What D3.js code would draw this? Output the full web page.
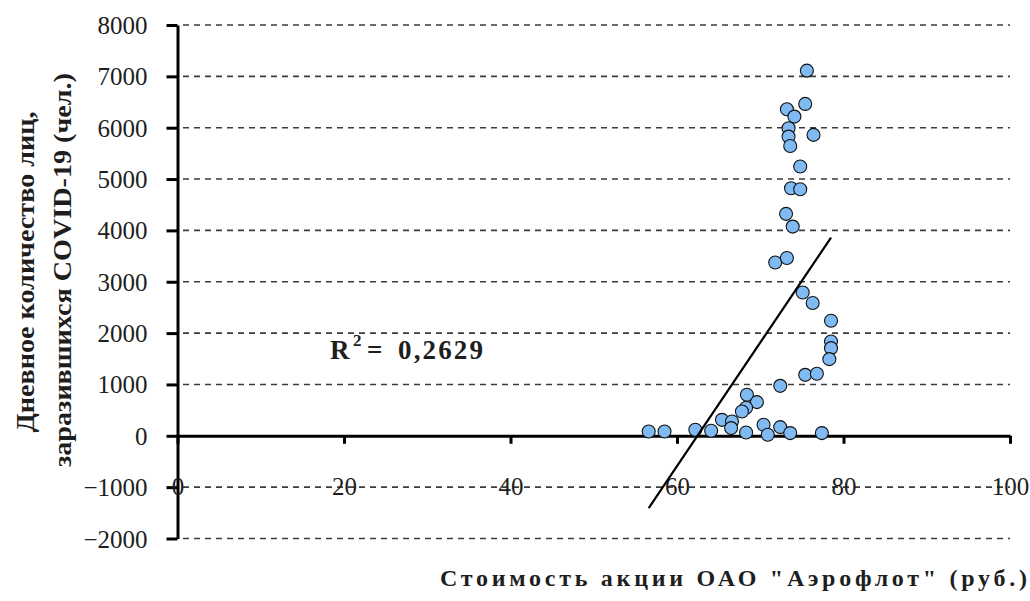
<!DOCTYPE html>
<html><head><meta charset="utf-8">
<script src="https://cdn.jsdelivr.net/npm/d3@7"></script>
<style>body{margin:0;background:#fff}</style>
</head><body>
<svg id="c" width="1030" height="601"></svg>
<script>
// ---- data ----
const priceX = [75.6,75.4,73.2,74.1,73.4,76.4,73.4,73.6,74.8,73.7,74.8,73.1,73.9,
  71.8,73.2,75.1,76.3,78.5,78.5,78.5,78.3,75.4,76.8,72.4,68.4,69.6,68.3,67.8,65.4,66.6,
  70.4,72.4,56.6,58.5,62.2,64.1,68.3,70.9,73.6,77.4,66.5];
const casesY = [7111,6463,6360,6216,5990,5860,5827,5645,5243,4822,4802,4322,4074,
  3376,3462,2792,2585,2240,1836,1707,1493,1187,1207,973,798,656,545,473,311,278,
  214,169,84,84,117,97,64,19,53,53,150];
const xTicks = [0,20,40,60,80,100];
const yTicks = [-2000,-1000,0,1000,2000,3000,4000,5000,6000,7000,8000];
const trendX = [56.6,78.5];
const trendY = [-1407,3860];
const r2Value = "0,2629";
const xTitle = 'Стоимость акции ОАО "Аэрофлот" (руб.)';
const yTitleLines = ['Дневное количество лиц,', 'заразившихся COVID-19 (чел.)'];

// ---- drawing ----
const svg = d3.select('#c');
const serif = '"Liberation Serif","Times New Roman",serif';
const ink = '#1e1e1e';
const x = d3.scaleLinear().domain([0,100]).range([177.5,1010]);
const y = d3.scaleLinear().domain([-2000,8000]).range([538.5,25]);

// gridlines
svg.append('g').selectAll('line').data(yTicks.filter(d=>d!==0)).join('line')
  .attr('x1',183).attr('x2',1010).attr('y1',d=>y(d)).attr('y2',d=>y(d))
  .attr('stroke','#3c3c3c').attr('stroke-width',1.6).attr('stroke-dasharray','6,5');

// y axis
const ya = svg.append('g').attr('transform',`translate(${x(0)},0)`)
  .call(d3.axisLeft(y).tickValues(yTicks).tickSize(11).tickSizeOuter(0).tickPadding(19).tickFormat(d3.format('d')));
ya.select('.domain').attr('stroke','#000').attr('stroke-width',3);
ya.selectAll('.tick line').attr('stroke','#000').attr('stroke-width',3);
ya.selectAll('.tick text').attr('font-family',serif).attr('font-size',25).attr('fill',ink).attr('dy','0.34em');

// x axis (tick labels sit on the -1000 gridline)
const xa = svg.append('g').attr('transform',`translate(0,${y(0)})`)
  .call(d3.axisBottom(x).tickValues(xTicks).tickSize(8).tickSizeOuter(0).tickFormat(d3.format('d')));
xa.select('.domain').attr('stroke','#000').attr('stroke-width',3);
xa.selectAll('.tick line').attr('stroke','#000').attr('stroke-width',3);
xa.selectAll('.tick text').attr('font-family',serif).attr('font-size',25).attr('fill',ink)
  .attr('y',y(-1000)-y(0)).attr('dy','0.3em');

// points
svg.append('g').selectAll('circle').data(priceX.map((v,i)=>[v,casesY[i]])).join('circle')
  .attr('cx',d=>x(d[0])).attr('cy',d=>y(d[1])).attr('r',6.5)
  .attr('fill','#7fbaf3').attr('stroke','#111').attr('stroke-width',1.1);

// trend line
svg.append('line').attr('x1',x(trendX[0])).attr('y1',y(trendY[0]))
  .attr('x2',x(trendX[1])).attr('y2',y(trendY[1]))
  .attr('stroke','#000').attr('stroke-width',2.2);

// R^2 label
const lab = svg.append('g').attr('font-family',serif).attr('font-weight','bold').attr('fill',ink);
lab.append('text').attr('x',330).attr('y',359).attr('font-size',27).text('R');
lab.append('text').attr('x',353).attr('y',346).attr('font-size',17).text('2');
lab.append('text').attr('x',367).attr('y',359).attr('font-size',27).text('=');
lab.append('text').attr('x',398).attr('y',359).attr('font-size',27)
  .attr('textLength',85).attr('lengthAdjust','spacing').text(r2Value);

// x title
svg.append('text').attr('x',440).attr('y',586).attr('font-family',serif).attr('font-weight','bold')
  .attr('font-size',24).attr('fill',ink).attr('textLength',587).attr('lengthAdjust','spacing').text(xTitle);

// y title
const yt = [{bx:34, cy:272, len:321},{bx:71, cy:270, len:394}];
yTitleLines.forEach((t,i)=>{
  svg.append('text').attr('transform',`translate(${yt[i].bx},${yt[i].cy}) rotate(-90)`)
    .attr('text-anchor','middle').attr('font-family',serif).attr('font-weight','bold')
    .attr('font-size',26).attr('fill',ink)
    .attr('textLength',yt[i].len).attr('lengthAdjust','spacingAndGlyphs').text(t);
});
</script>
</body></html>
